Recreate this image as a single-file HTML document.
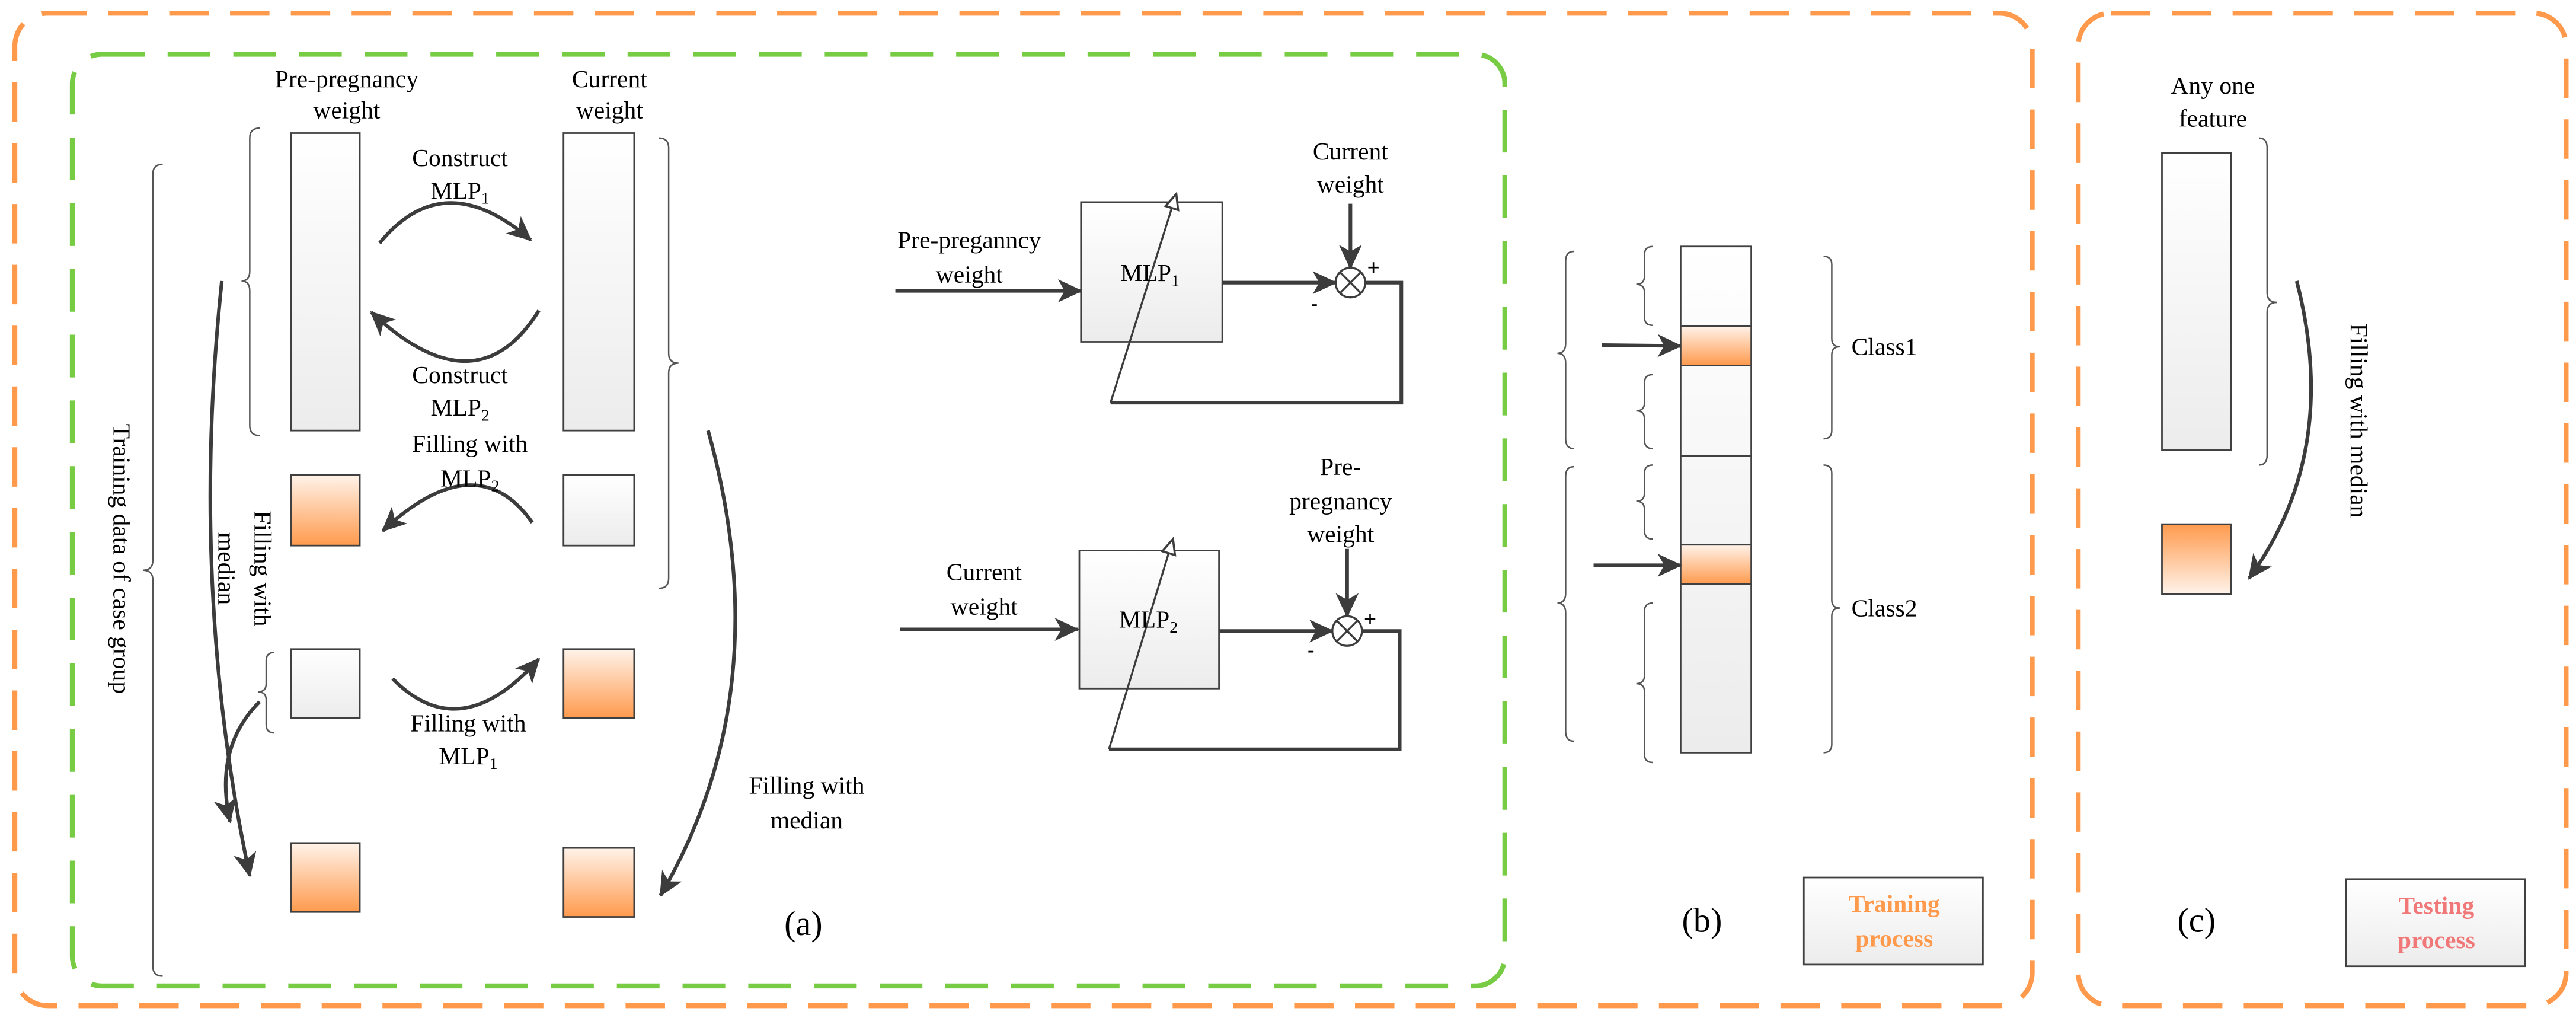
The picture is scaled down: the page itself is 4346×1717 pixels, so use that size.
<!DOCTYPE html>
<html><head><meta charset="utf-8"><style>
html,body{margin:0;padding:0;background:#fff;}
svg{display:block;}
</style></head><body>
<svg width="4346" height="1717" viewBox="0 0 1568 619.5" xmlns="http://www.w3.org/2000/svg" font-family="'Liberation Serif', 'Times New Roman', serif">
<defs>
<linearGradient id="gw" x1="0" y1="0" x2="0" y2="1"><stop offset="0" stop-color="#ffffff"/><stop offset="1" stop-color="#ececec"/></linearGradient>
<linearGradient id="go" x1="0" y1="0" x2="0" y2="1"><stop offset="0" stop-color="#fff3ea"/><stop offset="1" stop-color="#ff9a4d"/></linearGradient>
<linearGradient id="gor" x1="0" y1="0" x2="0" y2="1"><stop offset="0" stop-color="#ff9a4d"/><stop offset="1" stop-color="#fff3ea"/></linearGradient>
<marker id="ah" markerUnits="userSpaceOnUse" markerWidth="16" markerHeight="14" refX="14" refY="7" orient="auto"><path d="M0,0 L15,7 L0,14 L4,7 Z" fill="#3c3c3c"/></marker>
<marker id="ho" markerUnits="userSpaceOnUse" markerWidth="12" markerHeight="12" refX="10" refY="5" orient="auto"><path d="M1,1 L10,5 L1,9 Z" fill="#fff" stroke="#3c3c3c" stroke-width="1.3"/></marker>
</defs>

<rect x="9" y="8" width="1228" height="604" rx="20" fill="none" stroke="#ff9a4d" stroke-width="3" stroke-dasharray="24 13"/>
<rect x="1265" y="8" width="297" height="604" rx="20" fill="none" stroke="#ff9a4d" stroke-width="3" stroke-dasharray="24 13"/>
<rect x="44" y="33" width="872" height="567" rx="18" fill="none" stroke="#77cc44" stroke-width="3" stroke-dasharray="26 14"/>

<g stroke="#404040" stroke-width="1" >
<rect x="177" y="81" width="42" height="181" fill="url(#gw)"/>
<rect x="343" y="81" width="43" height="181" fill="url(#gw)"/>
<rect x="177" y="289" width="42" height="43" fill="url(#go)"/>
<rect x="343" y="289" width="43" height="43" fill="url(#gw)"/>
<rect x="177" y="395" width="42" height="42" fill="url(#gw)"/>
<rect x="343" y="395" width="43" height="42" fill="url(#go)"/>
<rect x="177" y="513" width="42" height="42" fill="url(#go)"/>
<rect x="343" y="516" width="43" height="42" fill="url(#go)"/>
<rect x="658" y="123" width="86" height="85" fill="url(#gw)"/>
<rect x="657" y="335" width="85" height="84" fill="url(#gw)"/>
<rect x="1023" y="150" width="43" height="308" fill="url(#gw)"/>
<rect x="1023" y="198.4" width="43" height="24" fill="url(#go)"/>
<line x1="1023" y1="277.4" x2="1066" y2="277.4"/>
<rect x="1023" y="331.5" width="43" height="24" fill="url(#go)"/>
<rect x="1316" y="93" width="42" height="181" fill="url(#gw)"/>
<rect x="1316" y="319" width="42" height="42.5" fill="url(#gor)"/>
<rect x="1098" y="534" width="109" height="53" fill="url(#gw)"/>
<rect x="1428" y="535" width="109" height="53" fill="url(#gw)"/>
</g>

<g fill="none" stroke="#555" stroke-width="0.9">
<path d="M158,78 Q152,78 152,84 L152,165 Q152,171 147,171 Q152,171 152,177 L152,259 Q152,265 158,265"/>
<path d="M99,100 Q93,100 93,106 L93,341 Q93,347 87,347 Q93,347 93,353 L93,588 Q93,594 99,594"/>
<path d="M167,397 Q162,397 162,402 L162,416 Q162,421 157,421 Q162,421 162,426 L162,441 Q162,446 167,446"/>
<path d="M958,153 Q953,153 953,159 L953,209 Q953,215 948,215 Q953,215 953,221 L953,267 Q953,273 958,273"/>
<path d="M958,284 Q953,284 953,290 L953,361 Q953,367 948,367 Q953,367 953,373 L953,445 Q953,451 958,451"/>
<path d="M1006,150 Q1001,150 1001,155 L1001,168 Q1001,173 996,173 Q1001,173 1001,178 L1001,193 Q1001,198 1006,198"/>
<path d="M1006,228 Q1001,228 1001,233 L1001,245 Q1001,250 996,250 Q1001,250 1001,255 L1001,268 Q1001,273 1006,273"/>
<path d="M1006,283 Q1001,283 1001,288 L1001,300 Q1001,305 996,305 Q1001,305 1001,310 L1001,323 Q1001,328 1006,328"/>
<path d="M1006,367 Q1001,367 1001,372 L1001,411 Q1001,416 996,416 Q1001,416 1001,421 L1001,459 Q1001,464 1006,464"/>
<path d="M401,84 Q407,84 407,90 L407,215 Q407,221 413,221 Q407,221 407,227 L407,352 Q407,358 401,358"/>
<path d="M1110,156 Q1115,156 1115,161 L1115,206 Q1115,211 1120,211 Q1115,211 1115,216 L1115,262 Q1115,267 1110,267"/>
<path d="M1110,283 Q1115,283 1115,288 L1115,365 Q1115,370 1120,370 Q1115,370 1115,375 L1115,453 Q1115,458 1110,458"/>
<path d="M1375,84 Q1380,84 1380,90 L1380,178 Q1380,184 1386,184 Q1380,184 1380,190 L1380,277 Q1380,283 1375,283"/>
</g>

<g fill="none" stroke="#3c3c3c" stroke-width="2.2" marker-end="url(#ah)">
<path d="M231,148 Q270,100 323,146"/>
<path d="M328,189 Q290,250 226,190"/>
<path d="M324,318 Q290,270 233,323"/>
<path d="M239,413 Q280,455 328,401"/>
<path d="M135,171 Q115,360 152,533"/>
<path d="M158,427 Q130,455 140,500"/>
<path d="M431,262 Q475,420 402,545"/>
<path d="M1398,171 Q1425,275 1369,352"/>
<line x1="545" y1="177" x2="658" y2="177"/>
<line x1="744" y1="172" x2="813" y2="172"/>
<line x1="822" y1="124" x2="822" y2="163"/>
<line x1="548" y1="383" x2="656" y2="383"/>
<line x1="742" y1="384" x2="811" y2="384"/>
<line x1="820" y1="334" x2="820" y2="375"/>
<line x1="975" y1="210" x2="1023" y2="210.5"/>
<line x1="970" y1="344" x2="1023" y2="344"/>
</g>
<g fill="none" stroke="#3c3c3c" stroke-width="2.2">
<polyline points="831,172 853,172 853,245 676,245"/>
<polyline points="829,384 852,384 852,456 675,456"/>
</g>
<g stroke="#3c3c3c" stroke-width="1.2" fill="none">
<line x1="676" y1="245" x2="716" y2="118" marker-end="url(#ho)"/>
<line x1="675" y1="456" x2="714" y2="328" marker-end="url(#ho)"/>
<circle cx="822" cy="172" r="9" fill="#fff"/>
<path d="M815.6,165.6 L828.4,178.4 M828.4,165.6 L815.6,178.4"/>
<circle cx="820" cy="384" r="9" fill="#fff"/>
<path d="M813.6,377.6 L826.4,390.4 M826.4,377.6 L813.6,390.4"/>
</g>

<g font-size="15" text-anchor="middle" fill="#000" font-family="'Liberation Serif', 'Times New Roman', serif">
<text x="211" y="53">Pre-pregnancy</text>
<text x="211" y="72">weight</text>
<text x="371" y="53">Current</text>
<text x="371" y="72">weight</text>
<text x="280" y="101">Construct</text>
<text x="280" y="121">MLP<tspan font-size="10" dy="3">1</tspan></text>
<text x="280" y="233">Construct</text>
<text x="280" y="253">MLP<tspan font-size="10" dy="3">2</tspan></text>
<text x="286" y="275">Filling with</text>
<text x="286" y="296">MLP<tspan font-size="10" dy="3">2</tspan></text>
<text x="285" y="445">Filling with</text>
<text x="285" y="465">MLP<tspan font-size="10" dy="3">1</tspan></text>
<text x="491" y="483">Filling with</text>
<text x="491" y="504">median</text>
<text x="489" y="569" font-size="21">(a)</text>
<text transform="translate(69,340) rotate(90)">Training data of case group</text>
<text transform="translate(155,346) rotate(90)">Filling with</text>
<text transform="translate(133,346) rotate(90)">median</text>
<text x="590" y="151">Pre-preganncy</text>
<text x="590" y="172">weight</text>
<text x="700" y="171">MLP<tspan font-size="10" dy="3">1</tspan></text>
<text x="822" y="97">Current</text>
<text x="822" y="117">weight</text>
<text x="599" y="353">Current</text>
<text x="599" y="374">weight</text>
<text x="699" y="382">MLP<tspan font-size="10" dy="3">2</tspan></text>
<text x="816" y="289">Pre-</text>
<text x="816" y="310">pregnancy</text>
<text x="816" y="330">weight</text>
<text x="836" y="167" font-family="'Liberation Sans', sans-serif" font-size="13">+</text>
<text x="800" y="189" font-family="'Liberation Sans', sans-serif" font-size="13">-</text>
<text x="834" y="381" font-family="'Liberation Sans', sans-serif" font-size="13">+</text>
<text x="798" y="400" font-family="'Liberation Sans', sans-serif" font-size="13">-</text>
<text x="1127" y="216" text-anchor="start">Class1</text>
<text x="1127" y="375" text-anchor="start">Class2</text>
<text x="1036" y="567" font-size="21">(b)</text>
<text x="1337" y="567" font-size="21">(c)</text>
<text x="1347" y="57">Any one</text>
<text x="1347" y="77">feature</text>
<text transform="translate(1431,256) rotate(90)">Filling with median</text>
<text x="1153" y="555" font-weight="bold" fill="#ff9a4d">Training</text>
<text x="1153" y="576" font-weight="bold" fill="#ff9a4d">process</text>
<text x="1483" y="556" font-weight="bold" fill="#f07878">Testing</text>
<text x="1483" y="577" font-weight="bold" fill="#f07878">process</text>
</g>
</svg>
</body></html>
